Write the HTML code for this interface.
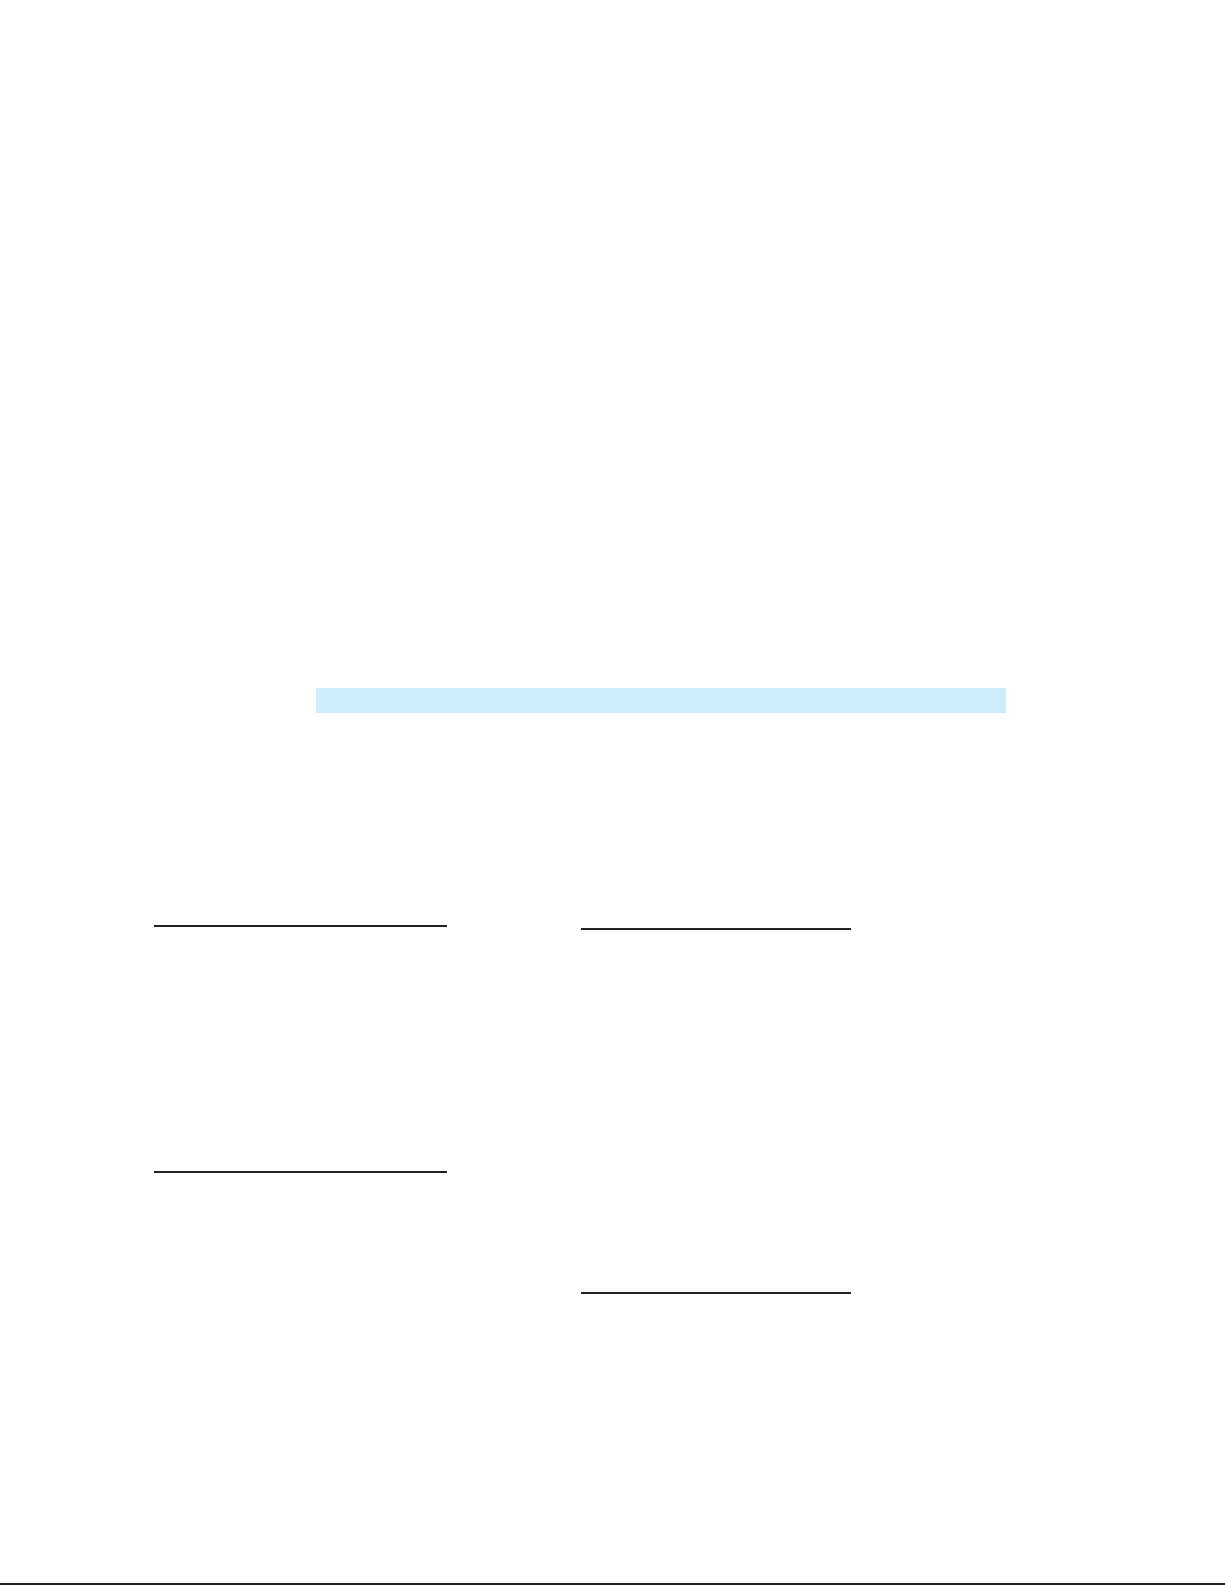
<!DOCTYPE html>
<html><head><meta charset="utf-8"><style>
html,body{margin:0;padding:0;background:#fff;}
body{width:1225px;height:1585px;position:relative;overflow:hidden;font-family:"Liberation Sans",sans-serif;}
.r{position:absolute;background:#222;height:2px;}
</style></head><body>
<div style="position:absolute;left:316px;top:688px;width:690px;height:25px;background:#cdeef9;"></div>
<div class="r" style="left:154px;top:925px;width:293px;"></div>
<div class="r" style="left:154px;top:1171px;width:293px;"></div>
<div class="r" style="left:581px;top:928px;width:270px;"></div>
<div class="r" style="left:581px;top:1292px;width:270px;"></div>
<div class="r" style="left:0;top:1583px;width:1225px;"></div>
</body></html>
